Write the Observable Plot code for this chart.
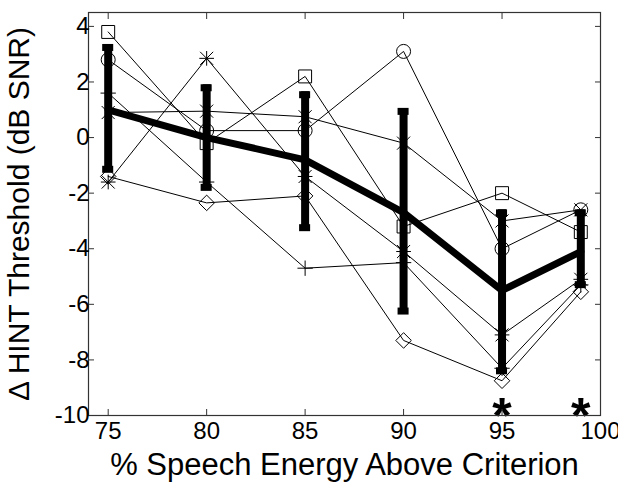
<!DOCTYPE html>
<html>
<head>
<meta charset="utf-8">
<script src="https://cdn.jsdelivr.net/npm/d3@7"></script>
<script src="https://cdn.jsdelivr.net/npm/@observablehq/plot@0.6"></script>
<style>
  html, body { margin: 0; padding: 0; background: #fff; }
  #chart { width: 618px; height: 485px; }
</style>
</head>
<body>
<div id="chart"></div>
<script>
// ---- data ----
const xTicks = [75, 80, 85, 90, 95, 100];
const yTicks = [4, 2, 0, -2, -4, -6, -8, -10];
const xs = [75, 80, 85, 90, 95, 99];

const squareS   = [3.8, -0.2, 2.2, -3.2, -2.0, -3.4];
const circleS   = [2.8, 0.25, 0.25, 3.1, -4.0, -2.6];
const asteriskS = [-1.6, 2.85, -1.4, -4.1, -7.1, -5.1];
const diamondS  = [-1.4, -2.35, -2.1, -7.3, -8.75, -5.55];
const plusS     = [1.6, -1.6, -4.7, -4.5, -8.3, -5.3];
const crossS    = [0.9, 0.95, 0.75, -0.2, -3.0, -2.6];

const meanS  = [1.0, 0.0, -0.8, -2.7, -5.5, -4.1];
const sdHigh = [3.35, 1.9, 1.65, 1.05, -2.6, -2.6];
const sdLow  = [-1.25, -1.9, -3.35, -6.35, -8.5, -5.4];

const sigX = [95, 99];

const xTitle = "% Speech Energy Above Criterion";
const yTitle = "\u0394 HINT Threshold (dB SNR)";

// ---- tables built from the arrays ----
const seriesList = [
  {name: "square", vals: squareS},
  {name: "circle", vals: circleS},
  {name: "asterisk", vals: asteriskS},
  {name: "diamond", vals: diamondS},
  {name: "plus", vals: plusS},
  {name: "cross", vals: crossS}
];
const long = seriesList.flatMap(s => s.vals.map((v, i) => ({series: s.name, x: xs[i], y: v})));
const bySeries = name => long.filter(d => d.series === name);
const meanRows = xs.map((x, i) => ({x, mean: meanS[i], lo: sdLow[i], hi: sdHigh[i]}));

const font = "Liberation Sans, Arial, Helvetica, sans-serif";
const fmt = d => String(d);

const chart = Plot.plot({
  width: 618,
  height: 485,
  marginLeft: 88,
  marginRight: 18,
  marginTop: 12,
  marginBottom: 70,
  style: {fontFamily: font, background: "#fff", color: "#000", overflow: "visible"},
  x: {domain: [74, 100], label: null},
  y: {domain: [-10, 4.5], label: null},
  marks: [
    // error bars (mean ± SD)
    Plot.ruleX(meanRows, {x: "x", y1: "lo", y2: "hi", stroke: "#000", strokeWidth: 8}),
    Plot.ruleY(meanRows, {y: "hi", x1: d => d.x - 0.28, x2: d => d.x + 0.28, stroke: "#000", strokeWidth: 7, dy: 3}),
    Plot.ruleY(meanRows, {y: "lo", x1: d => d.x - 0.28, x2: d => d.x + 0.28, stroke: "#000", strokeWidth: 7, dy: -3}),
    // individual lines
    Plot.line(long, {x: "x", y: "y", z: "series", stroke: "#000", strokeWidth: 1}),
    // markers
    Plot.dot(bySeries("square"), {x: "x", y: "y", symbol: "square", r: 7.3, stroke: "#000", strokeWidth: 1, fill: "none"}),
    Plot.dot(bySeries("circle"), {x: "x", y: "y", symbol: "circle", r: 7, stroke: "#000", strokeWidth: 1, fill: "none"}),
    Plot.dot(bySeries("diamond"), {x: "x", y: "y", symbol: "diamond2", r: 7, stroke: "#000", strokeWidth: 1, fill: "none"}),
    Plot.dot(bySeries("asterisk"), {x: "x", y: "y", symbol: "plus", r: 4.8, stroke: "#000", strokeWidth: 1, fill: "none"}),
    Plot.dot(bySeries("asterisk"), {x: "x", y: "y", symbol: "times", r: 6, stroke: "#000", strokeWidth: 1, fill: "none"}),
    Plot.dot(bySeries("plus"), {x: "x", y: "y", symbol: "plus", r: 5, stroke: "#000", strokeWidth: 1, fill: "none"}),
    Plot.dot(bySeries("cross"), {x: "x", y: "y", symbol: "times", r: 6, stroke: "#000", strokeWidth: 1, fill: "none"}),
    // mean line
    Plot.line(meanRows, {x: "x", y: "mean", stroke: "#000", strokeWidth: 7, strokeLinejoin: "miter"}),
    // significance asterisks
    Plot.text(sigX, {x: d => d, frameAnchor: "bottom", text: () => "*", fontSize: 50, fontWeight: "bold", dy: 17, fill: "#000"}),
    // frame
    Plot.frame({stroke: "#333", strokeWidth: 1.2}),
    // axes (ticks inward)
    Plot.axisX(xTicks, {anchor: "bottom", tickSize: -6, tickPadding: 12, fontSize: 24, tickFormat: fmt, label: null, stroke: "#333"}),
    Plot.axisX(xTicks, {anchor: "top", tickSize: -6, tickFormat: () => "", label: null, stroke: "#333"}),
    Plot.axisY(yTicks, {anchor: "left", tickSize: -6, tickPadding: 5, fontSize: 24, tickFormat: fmt, label: null, stroke: "#333"}),
    Plot.axisY(yTicks, {anchor: "right", tickSize: -6, tickFormat: () => "", label: null, stroke: "#333"}),
    // axis titles
    Plot.text([xTitle], {frameAnchor: "bottom", text: d => d, fontSize: 31, dy: 59, fill: "#000"}),
    Plot.text([yTitle], {frameAnchor: "left", text: d => d, fontSize: 30, rotate: -90, textAnchor: "middle", dx: -69, fill: "#000"})
  ]
});
document.getElementById("chart").appendChild(chart);
</script>
</body>
</html>
